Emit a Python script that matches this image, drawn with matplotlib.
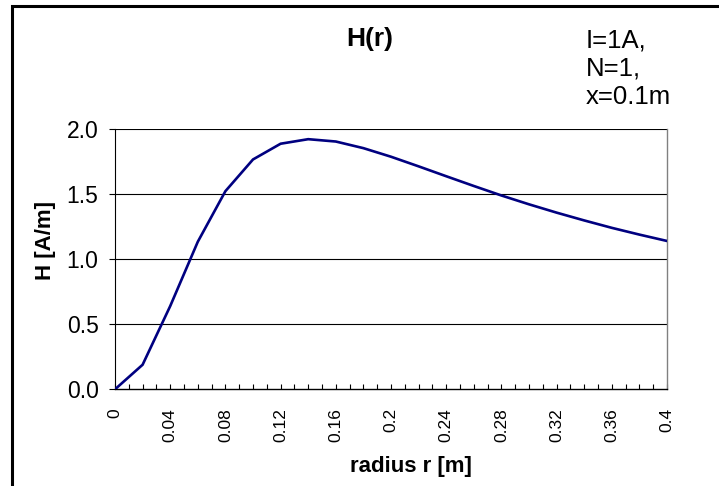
import matplotlib
matplotlib.use("Agg")
import matplotlib.pyplot as plt
from matplotlib.patches import Rectangle
from matplotlib.ticker import MultipleLocator

plt.rcParams['font.family'] = ['Liberation Sans', 'DejaVu Sans']

# Data
radius = [0.00, 0.02, 0.04, 0.06, 0.08, 0.10, 0.12, 0.14, 0.16, 0.18, 0.20,
          0.22, 0.24, 0.26, 0.28, 0.30, 0.32, 0.34, 0.36, 0.38, 0.40]
H_values = [0.000, 0.189, 0.640, 1.135, 1.524, 1.768, 1.889, 1.924, 1.906, 1.855, 1.789,
            1.715, 1.639, 1.564, 1.491, 1.423, 1.359, 1.299, 1.242, 1.190, 1.141]
x_tick_values = [0, 0.04, 0.08, 0.12, 0.16, 0.2, 0.24, 0.28, 0.32, 0.36, 0.4]
x_tick_labels = ["0", "0.04", "0.08", "0.12", "0.16", "0.2", "0.24", "0.28", "0.32", "0.36", "0.4"]
y_tick_values = [0.0, 0.5, 1.0, 1.5, 2.0]
y_tick_labels = ["0.0", "0.5", "1.0", "1.5", "2.0"]
title_text = "H(r)"
info_lines = ["I=1A,", "N=1,", "x=0.1m"]
x_label = "radius r [m]"
y_label = "H [A/m]"

W, Hpx = 719, 486
fig = plt.figure(figsize=(W / 100, Hpx / 100), dpi=100)
fig.patch.set_facecolor('white')

def fx(px):
    return px / W

def fy(py):
    return 1 - py / Hpx

ax = fig.add_axes([fx(115), fy(389.3), fx(667) - fx(115), fy(129.3) - fy(389.3)])
ax.set_xlim(0, 0.4)
ax.set_ylim(0, 2.0)

ax.plot(radius, H_values, color='#000080', linewidth=1.9, solid_joinstyle='miter', zorder=3)

# horizontal gridlines
for yv in y_tick_values[1:]:
    ax.axhline(yv, color='black', linewidth=0.8, zorder=1)

ax.spines['top'].set_visible(False)
ax.spines['right'].set_color('#808080')
ax.spines['right'].set_linewidth(1.0)
ax.spines['left'].set_color('black')
ax.spines['left'].set_linewidth(0.8)
ax.spines['bottom'].set_color('black')
ax.spines['bottom'].set_linewidth(1.0)

ax.set_yticks(y_tick_values)
ax.set_yticklabels(y_tick_labels, fontsize=16.5)
ax.tick_params(axis='y', direction='out', length=4.3, width=0.8, pad=7.5, colors='black')

ax.set_xticks(x_tick_values)
ax.set_xticklabels(x_tick_labels, rotation=90, fontsize=12.5, va='top', ha='center')
ax.xaxis.set_minor_locator(MultipleLocator(0.01))
ax.tick_params(axis='x', which='both', direction='in', length=3.8, width=0.8, pad=13.5, colors='black')

# Title and texts
fig.text(fx(370), fy(46), title_text, fontsize=19, fontweight='bold', ha='center', va='baseline')
for i, line in enumerate(info_lines):
    fig.text(fx(586), fy(47 + 28.7 * i), line, fontsize=18.5, ha='left', va='baseline')
fig.text(fx(411), fy(466), x_label, fontsize=16, fontweight='bold', ha='center', va='center')
fig.text(fx(46), fy(241), y_label, fontsize=16, fontweight='bold', ha='center', va='center', rotation=90)

# outer chart border (clipped at right and bottom)
border = Rectangle((fx(12), fy(500)), fx(730) - fx(12), fy(6) - fy(500),
                   transform=fig.transFigure, fill=False, edgecolor='black',
                   linewidth=2.2, clip_on=False)
fig.patches.append(border)

fig.savefig('out.png', dpi=100, facecolor='white')
